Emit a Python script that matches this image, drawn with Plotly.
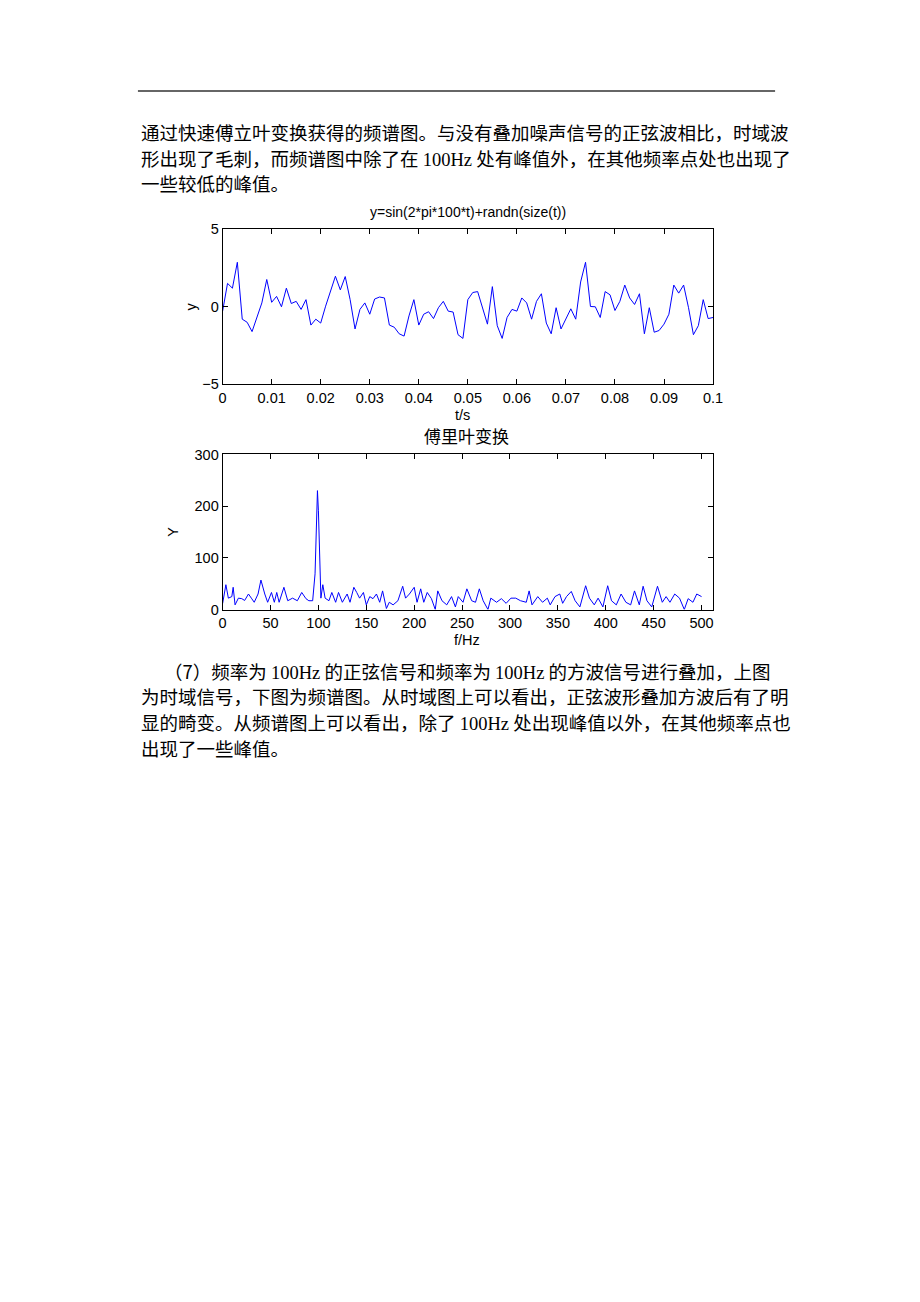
import plotly.graph_objects as go

W, H = 920, 1302

# ---- time-domain signal, t = 0 : 0.001 : 0.1 ----
t_values = [i * 0.001 for i in range(101)]
y_values = [
    -0.28, 1.51, 1.20, 2.87, -0.80, -1.00, -1.60, -0.69, 0.25, 1.76,
    0.29, 0.67, 0.00, 1.20, 0.21, 0.35, -0.17, 0.46, -1.18, -0.80,
    -1.05, 0.04, 1.05, 1.97, 1.09, 1.95, 0.46, -1.43, -0.17, 0.25,
    -0.48, 0.50, 0.63, 0.57, -1.18, -1.32, -1.74, -1.89, -0.59, 0.46,
    -1.18, -0.48, -0.32, -0.76, -0.06, 0.35, -0.28, -0.34, -1.80, -2.04,
    0.46, 0.92, 0.98, -0.06, -1.12, 1.30, -1.22, -2.04, -0.69, -0.17,
    -0.28, 0.57, 0.25, -0.80, 0.35, 0.84, -1.05, -1.74, -0.06, -1.43,
    -0.80, -0.13, -0.80, 1.60, 2.87, 0.02, 0.00, -0.69, 0.98, 0.77,
    -0.24, 0.35, 1.40, 0.57, 0.15, 0.84, -1.74, -0.06, -1.64, -1.53,
    -1.12, -0.48, 1.40, 0.88, 1.40, -0.06, -1.80, -1.22, 0.46, -0.76,
    -0.69,
]

# ---- spectrum ----
f_values = [
    0, 3.4, 6, 9.6, 11, 13, 16.5, 20, 23, 27, 30, 33, 37, 40, 44, 47, 51, 54,
    56.5, 59, 64, 68, 73, 78, 82.6, 87, 90, 94, 96.5, 97.8, 99, 100, 101,
    102.6, 104.6, 107, 111, 114, 118, 121, 125, 130, 133, 137, 140, 143, 147,
    150, 153.6, 157, 160.6, 164, 167, 171, 174, 178, 183, 188, 191, 195, 200,
    203, 206.8, 210, 213.6, 218, 222, 224.6, 229, 234, 239, 243, 246, 251,
    255, 260, 264, 268, 272, 277, 280, 286, 291, 296, 301, 306, 311, 317, 320,
    323, 329, 334, 339, 342, 347, 352, 355, 359, 364, 368, 373, 379, 383, 388,
    392, 397, 402, 406, 411, 416, 421, 426, 430, 435, 439, 443, 448, 454, 459,
    463, 467, 472, 477, 482, 486, 491, 495, 500,
]
Y_values = [
    11.5, 48, 22, 25, 43, 9, 22, 21, 17.5, 30, 22, 14, 30, 57, 30, 14, 33, 14,
    33, 14, 43, 17, 22, 17, 33, 21, 17, 17, 69, 175, 230, 191, 116,
    22, 48, 22, 17, 33, 14, 33, 14, 30, 14, 43, 33, 22, 33,
    9, 25, 21, 30, 14, 36, 2, 14, 9, 17, 45, 22, 30, 43,
    14, 40, 14, 33, 21, 0, 36, 17, 9, 25, 5, 25, 14,
    40, 17, 14, 40, 17, 0, 22, 14, 21, 12, 22, 22, 17, 14, 36,
    9, 25, 14, 22, 9, 25, 30, 12, 25, 35, 17, 5, 46, 22, 9,
    22, 5, 46, 17, 9, 30, 14, 9, 36, 9, 45, 17, 5, 45, 14,
    25, 14, 30, 22, 0, 21, 14, 30, 25,
]

top_ticks = [0, 0.01, 0.02, 0.03, 0.04, 0.05, 0.06, 0.07, 0.08, 0.09, 0.1]
top_ticklabels = ["0", "0.01", "0.02", "0.03", "0.04", "0.05", "0.06", "0.07", "0.08", "0.09", "0.1"]
top_yticks = [-5, 0, 5]
bot_ticks = [0, 50, 100, 150, 200, 250, 300, 350, 400, 450, 500]
bot_yticks = [0, 100, 200, 300]

S = '<span style="font-family:Liberation Serif">'
E = '</span>'
para1 = [
    "通过快速傅立叶变换获得的频谱图。与没有叠加噪声信号的正弦波相比，时域波",
    "形出现了毛刺，而频谱图中除了在 " + S + "100Hz" + E + " 处有峰值外，在其他频率点处也出现了",
    "一些较低的峰值。",
]
para2 = [
    "（7）频率为 " + S + "100Hz" + E + " 的正弦信号和频率为 " + S + "100Hz" + E + " 的方波信号进行叠加，上图",
    "为时域信号，下图为频谱图。从时域图上可以看出，正弦波形叠加方波后有了明",
    "显的畸变。从频谱图上可以看出，除了 " + S + "100Hz" + E + " 处出现峰值以外，在其他频率点也",
    "出现了一些峰值。",
]

def px_x(x):
    return x / W

def px_y(y):
    return 1 - y / H

fig = go.Figure()
fig.add_trace(go.Scatter(x=t_values, y=y_values, mode="lines",
                         line=dict(color="#0000ff", width=1), xaxis="x", yaxis="y",
                         showlegend=False, hoverinfo="skip"))
fig.add_trace(go.Scatter(x=f_values, y=Y_values, mode="lines",
                         line=dict(color="#0000ff", width=1), xaxis="x2", yaxis="y2",
                         showlegend=False, hoverinfo="skip"))

axis_common = dict(showline=True, linecolor="black", linewidth=1, mirror="allticks",
                   ticks="inside", ticklen=5, tickcolor="black", showgrid=False,
                   zeroline=False, tickfont=dict(family="Liberation Sans, Arial", size=14.5, color="black"))

x0, x1 = px_x(222), px_x(720)
fig.update_layout(
    width=W, height=H, margin=dict(l=0, r=0, t=0, b=0),
    paper_bgcolor="white", plot_bgcolor="white",
    xaxis=dict(domain=[x0, x1], range=[0, 0.1], tickvals=top_ticks, ticktext=top_ticklabels,
               anchor="y", **axis_common),
    yaxis=dict(domain=[px_y(381), px_y(224)], range=[-5, 5], tickvals=top_yticks,
               anchor="x", **axis_common),
    xaxis2=dict(domain=[x0, x1], range=[0, 512], tickvals=bot_ticks, anchor="y2", **axis_common),
    yaxis2=dict(domain=[px_y(609), px_y(452)], range=[0, 300], tickvals=bot_yticks,
                anchor="x2", **axis_common),
)

ann = []
def text(x, y, s, size, family, xanchor="center", angle=0):
    ann.append(dict(x=px_x(x), y=px_y(y), xref="paper", yref="paper", text=s,
                    showarrow=False, xanchor=xanchor, yanchor="middle", textangle=angle,
                    font=dict(family=family, size=size, color="black")))

cjk = "Noto Sans CJK SC"
for i, line in enumerate(para1):
    text(137, 126 + i * 25.5, line, 18.5, cjk, xanchor="left")
for i, line in enumerate(para2):
    x = 160 if i == 0 else 137
    text(x, 671 + i * 26, line, 18.5, cjk, xanchor="left")

sans = "Liberation Sans, Arial"
text(471, 207, "y=sin(2*pi*100*t)+randn(size(t))", 14, sans)
text(466, 412, "t/s", 14.5, sans)
text(190, 302, "y", 14.5, sans, angle=-90)
text(470, 433, "傅里叶变换", 17, cjk)
text(470, 640, "f/Hz", 14.5, sans)
text(172, 530, "Y", 14.5, sans, angle=-90)

fig.update_layout(annotations=ann)
fig.add_shape(type="line", xref="paper", yref="paper", x0=px_x(136), x1=px_x(783),
              y0=px_y(84), y1=px_y(84), line=dict(color="#333333", width=1.5))

fig.write_html("out.html")
